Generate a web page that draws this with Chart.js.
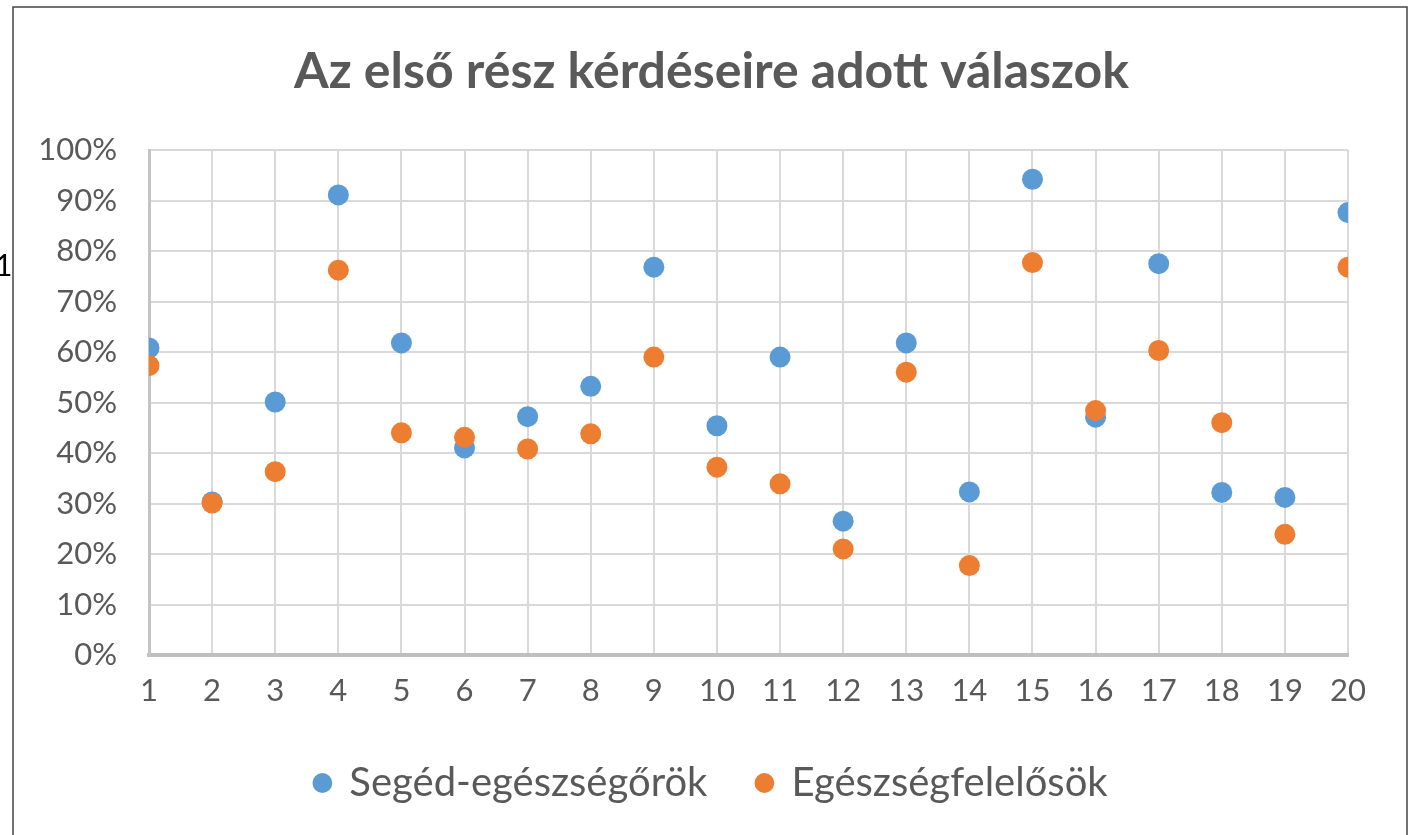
<!DOCTYPE html>
<html>
<head>
<meta charset="utf-8">
<script src="https://cdn.jsdelivr.net/npm/chart.js@4/dist/chart.umd.min.js"></script>
<style>
    html, body { margin: 0; padding: 0; background: #fff; }
    #wrap { position: relative; width: 1411px; height: 835px; overflow: hidden; }
    #stray { position: absolute; left: -5px; top: 246px; font-family: Lato, sans-serif; font-size: 30px; color: #000; }
</style>
</head>
<body>
<div id="wrap">
    <canvas id="scatterPlot" width="1411" height="835"></canvas>
    <span id="stray">1</span>
</div>
<script>
// question numbers on the x axis
const questions = [1, 2, 3, 4, 5, 6, 7, 8, 9, 10, 11, 12, 13, 14, 15, 16, 17, 18, 19, 20];

// share of correct answers per question
const segedEgeszsegorok = [0.608, 0.303, 0.501, 0.911, 0.618, 0.41, 0.472, 0.532, 0.768, 0.454,
                           0.59, 0.265, 0.618, 0.323, 0.942, 0.471, 0.775, 0.322, 0.312, 0.876];
const egeszsegfelelosok = [0.573, 0.301, 0.363, 0.762, 0.44, 0.431, 0.408, 0.438, 0.59, 0.372,
                           0.339, 0.21, 0.56, 0.177, 0.777, 0.484, 0.603, 0.46, 0.239, 0.768];

const yTicks = [0, 0.1, 0.2, 0.3, 0.4, 0.5, 0.6, 0.7, 0.8, 0.9, 1];

const textColor = '#595959';
const fontFamily = 'Lato, Carlito, sans-serif';

function toPoints(values) {
    return values.map(function(v, i) {
        return { x: questions[i], y: v };
    });
}

// white background and the outer frame
const framePlugin = {
    id: 'frame',
    beforeDraw: function(chart) {
        const ctx = chart.ctx;
        ctx.save();
        ctx.fillStyle = '#fff';
        ctx.fillRect(0, 0, chart.width, chart.height);
        ctx.strokeStyle = '#444';
        ctx.lineWidth = 1.5;
        ctx.beginPath();
        ctx.moveTo(13, chart.height + 5);
        ctx.lineTo(13, 7);
        ctx.lineTo(1407, 7);
        ctx.lineTo(1407, chart.height + 5);
        ctx.stroke();
        ctx.restore();
    }
};

document.addEventListener('DOMContentLoaded', function() {
    const ctx = document.getElementById('scatterPlot').getContext('2d');

    new Chart(ctx, {
        type: 'scatter',
        data: {
            datasets: [{
                label: 'Segéd-egészségőrök',
                data: toPoints(segedEgeszsegorok),
                backgroundColor: '#5B9BD5',
                borderColor: '#5B9BD5',
                borderWidth: 0,
                pointRadius: 10.5,
                pointHoverRadius: 10.5,
                order: 2
            }, {
                label: 'Egészségfelelősök',
                data: toPoints(egeszsegfelelosok),
                backgroundColor: '#ED7D31',
                borderColor: '#ED7D31',
                borderWidth: 0,
                pointRadius: 10.5,
                pointHoverRadius: 10.5,
                order: 1
            }]
        },
        options: {
            responsive: false,
            animation: false,
            layout: {
                padding: { left: 13, right: 1, top: 0, bottom: 22 }
            },
            scales: {
                x: {
                    type: 'linear',
                    min: 1,
                    max: 20,
                    afterBuildTicks: function(scale) {
                        scale.ticks = questions.map(function(q) { return { value: q }; });
                    },
                    afterFit: function(scale) { scale.height = 58; },
                    grid: { color: '#d9d9d9', lineWidth: 2, drawTicks: false },
                    border: { color: '#bfbfbf', width: 4 },
                    ticks: {
                        padding: 17,
                        color: textColor,
                        font: { family: fontFamily, size: 31 }
                    }
                },
                y: {
                    min: 0,
                    max: 1,
                    afterBuildTicks: function(scale) {
                        scale.ticks = yTicks.map(function(t) { return { value: t }; });
                    },
                    afterFit: function(scale) { scale.width = 136; },
                    grid: { color: '#d9d9d9', lineWidth: 2, drawTicks: false },
                    border: { color: '#c4c4c4', width: 3 },
                    ticks: {
                        padding: 32,
                        color: textColor,
                        font: { family: fontFamily, size: 31 },
                        callback: function(value) {
                            return Math.round(value * 100) + '%';
                        }
                    }
                },
                // empty right-hand spacer so the plot ends where the original does
                spacer: {
                    type: 'linear',
                    position: 'right',
                    afterFit: function(scale) { scale.width = 62; },
                    grid: { display: false },
                    border: { display: false },
                    ticks: { display: false }
                }
            },
            plugins: {
                title: {
                    display: true,
                    text: 'Az első rész kérdéseire adott válaszok',
                    color: textColor,
                    font: { family: fontFamily, size: 50, weight: 'bold' },
                    padding: { top: 42, bottom: 48 }
                },
                legend: {
                    position: 'bottom',
                    labels: {
                        usePointStyle: true,
                        pointStyle: 'circle',
                        boxWidth: 14,
                        boxHeight: 14,
                        padding: 50,
                        color: textColor,
                        font: { family: fontFamily, size: 40 },
                        sort: function(a, b) { return a.datasetIndex - b.datasetIndex; }
                    }
                },
                tooltip: { enabled: false }
            }
        },
        plugins: [framePlugin]
    });
});
</script>
</body>
</html>
